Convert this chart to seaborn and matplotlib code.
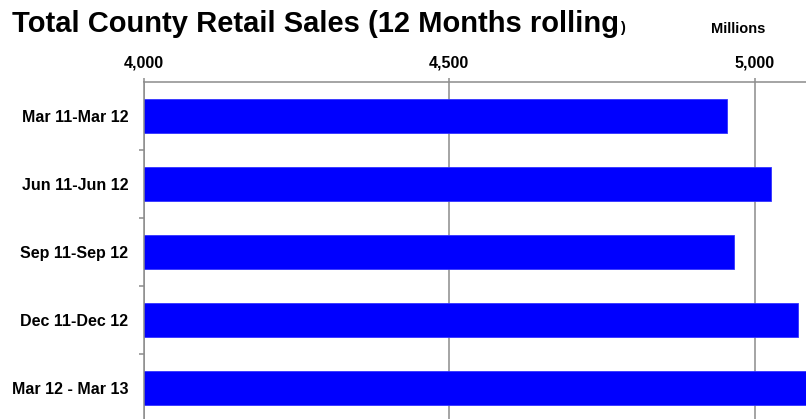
import matplotlib
matplotlib.use("Agg")
import matplotlib.pyplot as plt
from matplotlib.ticker import FixedLocator, FuncFormatter
import seaborn as sns
import pandas as pd

# Rolling 12-month retail sales, in millions
periods = ["Mar 11-Mar 12", "Jun 11-Jun 12", "Sep 11-Sep 12",
           "Dec 11-Dec 12", "Mar 12 - Mar 13"]
sales = [4955, 5026, 4965, 5070, 5100]
x_ticks = [4000, 4500, 5000]

sns.set_style("white")
plt.rcParams["font.family"] = ["Liberation Sans", "DejaVu Sans"]
plt.rcParams["font.weight"] = "bold"
plt.rcParams["text.color"] = "black"
plt.rcParams["xtick.labelcolor"] = "black"
plt.rcParams["ytick.labelcolor"] = "black"

W, H = 806, 419
fig = plt.figure(figsize=(W / 100, H / 100), dpi=100)
ax = fig.add_axes([143.5 / W, 0.0, 1.0 - 143.5 / W, 1.0 - 82 / H])

df = pd.DataFrame({"period": periods, "sales": sales})
sns.barplot(data=df, x="sales", y="period", orient="h", color="#0000ff",
            saturation=1, width=0.5, edgecolor="#3333ff", linewidth=0.6, ax=ax)

grey = "#8c8c8c"
ax.set_xlim(4000, 5083.4)
ax.set_ylim(4.456, -0.5)
ax.set_xlabel("")
ax.set_ylabel("")

# value axis on top
ax.xaxis.tick_top()
ax.set_xticks(x_ticks)
ax.xaxis.set_major_formatter(FuncFormatter(lambda v, p: f"{v:,.0f}"))
ax.tick_params(axis="x", which="major", top=True, direction="out", length=3,
               width=1.1, color=grey, pad=5, labelsize=11.5, labelcolor="black")
ax.grid(axis="x", color=grey, linewidth=1.1)
ax.set_axisbelow(True)

# category axis: labels at bar centres, tick marks between bars
ax.tick_params(axis="y", which="major", left=True, length=0, pad=11,
               labelsize=11.5, labelcolor="black")
ax.yaxis.set_minor_locator(FixedLocator([0.5, 1.5, 2.5, 3.5, 4.5]))
ax.tick_params(axis="y", which="minor", left=True, direction="out", length=3.6,
               width=1.1, color=grey)
for lbl in ax.get_xticklabels() + ax.get_yticklabels():
    lbl.set_fontweight("bold")

for side in ("right", "bottom"):
    ax.spines[side].set_visible(False)
for side in ("top", "left"):
    ax.spines[side].set_color(grey)
    ax.spines[side].set_linewidth(1.1)

# title with a smaller closing parenthesis
title = fig.text(12 / W, 1 - 31.7 / H, "Total County Retail Sales (12 Months rolling",
                 fontsize=21, fontweight="bold", va="baseline", ha="left",
                 color="black")
fig.canvas.draw()
bb = title.get_window_extent(renderer=fig.canvas.get_renderer())
fig.text(bb.x1 / W + 1 / W, 1 - 31.7 / H, ")", fontsize=10.5, fontweight="bold",
         va="baseline", ha="left", color="black")

fig.text(738 / W, 1 - 33 / H, "Millions", fontsize=10.5, fontweight="bold",
         va="baseline", ha="center", color="black")

fig.savefig("out.png", dpi=100)
